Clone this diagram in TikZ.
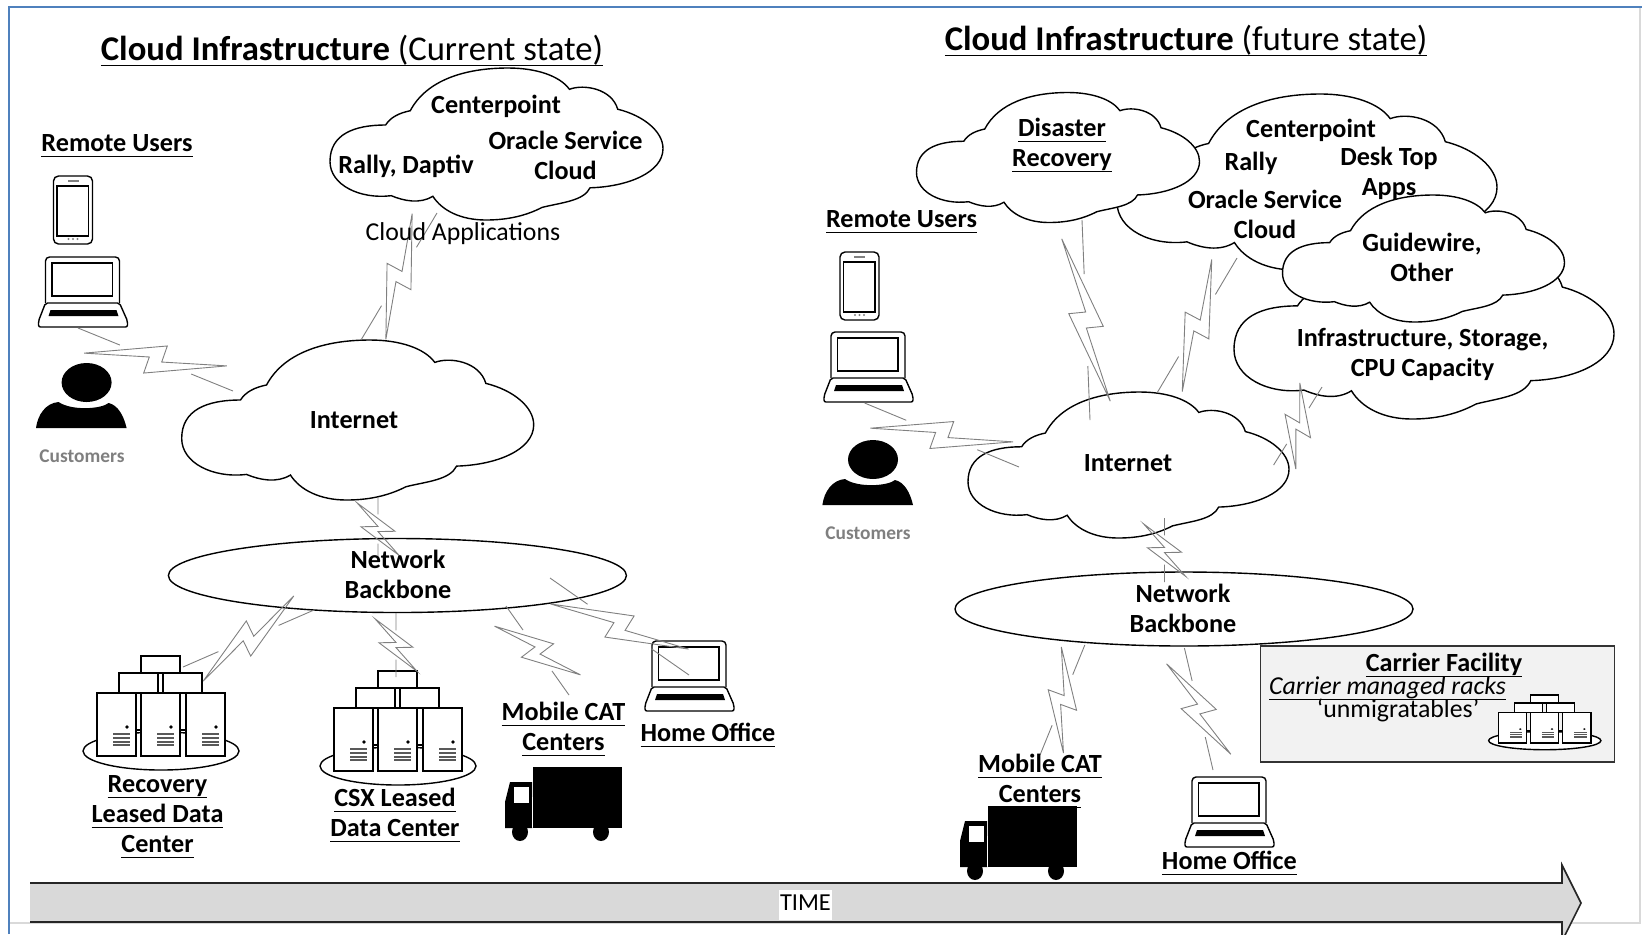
\documentclass[tikz,border=0pt]{standalone}
\usepackage{fontspec}
\setmainfont{Carlito}
\usepackage{xcolor}
\usetikzlibrary{calc,shapes.geometric}
\definecolor{framblue}{HTML}{4F81BD}
\definecolor{boltgray}{HTML}{808080}
\definecolor{custgray}{HTML}{7F7F7F}
\newcommand{\ul}[1]{\strut\underline{\smash{#1}\rule[-1.2pt]{0pt}{1pt}}}
\newcommand{\boltpt}[2]{($(\tikztostart)!#1!(\tikztotarget)!#2!90:(\tikztotarget)$)}
\newcommand{\cloudat}[5]{\pic(#1)[shift={(#2,#3)},xscale=#4/100,yscale=#5/100]{officecloud};}
\tikzset{
	lbl/.style={align=center,inner sep=0pt,yshift=-1pt,font=\fontsize{13.1}{15}\selectfont\bfseries,execute at begin node={\strut},execute at end node={\strut}},
	plainlbl/.style={lbl,font=\fontsize{12.9}{15}\selectfont},
	titlelbl/.style={lbl,yshift=-.5pt,font=\fontsize{17.35}{20}\selectfont},
	shapeline/.style={draw=black,fill=white,line width=.7pt},
	boltlink/.style={draw=boltgray,line width=.45pt,to path={(\tikztostart)--($(\tikztostart)!.27!(\tikztotarget)$)
		\boltpt{.09}{-10.5pt}--\boltpt{.535}{8.5pt}--\boltpt{.54}{0pt}--\boltpt{.91}{10.5pt}--\boltpt{.465}{-8.5pt}--\boltpt{.46}{0pt}--cycle
		($(\tikztostart)!.73!(\tikztotarget)$)--(\tikztotarget)}},
	pics/officecloud/.style={code={\draw[shapeline](16.7,37.5)
		..controls(18.2,32.3)and(20.8,29.6)..(24.1,28.1)
		..controls(28.9,8.3)and(40.2,0)..(53.5,0)
		..controls(62,0)and(69,5.2)..(71.9,14)
		..controls(76.2,10.4)and(84.6,13.5)..(86.4,27.1)
		..controls(94.1,31.25)and(100,41.7)..(100,53)
		..controls(100,68.75)and(89.4,78.1)..(78.1,78.8)
		..controls(76.2,87.5)and(69.5,88.5)..(63.7,91.7)
		..controls(58.2,97.9)and(52.5,100)..(46.8,100)
		..controls(39.3,100)and(33.6,93.75)..(30.9,84.4)
		..controls(27,89.6)and(22.2,87.5)..(18.4,84)
		..controls(9,86.5)and(0,77)..(0,61.5)
		..controls(0,43.75)and(7.1,37.5)..(16.7,37.5)--cycle;}},
	pics/phoneicon/.style={code={
		\draw[shapeline,rounded corners=2.5pt](0,0)rectangle(39,68);
		\draw[line width=.7pt](3.5,10)rectangle(35,60);
		\fill[gray](14,4)rectangle(25,6);
		\foreach \d in {15,19.5,24}{\fill[gray](\d,63)circle(.6pt);}}},
	pics/laptopicon/.style={code={
		\draw[shapeline,rounded corners=2pt](7,46)--(7,0)--(81,0)--(81,46);
		\draw[line width=.8pt](13.5,6)rectangle(74,39);
		\draw[shapeline,rounded corners=1pt](7,46)--(81,46)--(89,64)--(89,70)--(0,70)--(0,64)--cycle;
		\fill(12,53)--(78,53)--(80,59)--(10,59)--cycle;}},
	pics/personicon/.style={code={
		\fill(51,19.5)ellipse[x radius=12.5pt,y radius=9.75pt];
		\fill(.4,65)--(91,65)..controls(88,52)and(82,42)..(73,40)..controls(66,46)and(36,48)..(23,39)..controls(10,40)and(2,52)..(.4,65)--cycle;}},
	pics/truckicon/.style={code={
		\fill(29,0)rectangle(118,61);
		\fill(6,15)--(28,15)--(28,61)--(1,61)--(1,35)--cycle;
		\fill[white](10,20)rectangle(25,36);
		\draw[white,line width=.3pt](28.5,30)--(28.5,60);
		\fill(16,65)ellipse[x radius=4pt,y radius=4.5pt];
		\fill(97,65)ellipse[x radius=4pt,y radius=4.5pt];}},
	pics/serverstack/.style={code={
		\draw[shapeline](78,95)ellipse[x radius=39pt,y radius=9.5pt];
		\draw[shapeline](58,0)rectangle(97,17);
		\draw[shapeline](36,17)rectangle(75,37);
		\draw[shapeline](80,17)rectangle(119,37);
		\draw[line width=.6pt](53,74)--(58,74)(97,74)--(103,74);
		\foreach \t in {14,58,103}{
			\draw[shapeline](\t,37)rectangle(\t+39,100);
			\fill(\t+30,71)circle(.9pt);
			\foreach \r in {78,82,86,89}{\draw[black!65,line width=.7pt](\t+16,\r)--(\t+33,\r);}}}},
}
\begin{document}
\begin{tikzpicture}[x=.5pt,y=-.5pt]
\useasboundingbox(0,0)rectangle(1642,934);
\clip(0,0)rectangle(1642,934);
\draw[black!15,line width=.8pt](9,923)--(1640,923)--(1640,7);
\draw[framblue,line width=1.2pt](9,934)--(9,7)--(1642,7);
\draw[fill=black!15,draw=black!85,line width=.8pt](30,883)--(1562,883)--(1562,865)--(1581,903)--(1562,941)--(1562,922)--(30,922);
\node(timelabel)at(805.5,902.5)[plainlbl,font=\fontsize{12.2}{15}\selectfont,fill=white,minimum width=26.5pt]{TIME};
\node(titleCurrent)at(352,49)[titlelbl]{\ul{\textbf{Cloud Infrastructure} (Current state)}};
\node(titleFuture)at(1186,39)[titlelbl]{\ul{\textbf{Cloud Infrastructure} (future state)}};
%
\cloudat{cloudApps}{330}{68}{333}{152}
\cloudat{cloudNow}{181.7}{340}{352}{160}
\node(backboneNow)at(397.4,575.5)[ellipse,shapeline,minimum width=229pt,minimum height=37pt,inner sep=0pt]{};
\pic(phoneNow)at(53.5,176){phoneicon};
\pic(laptopNow)at(38.5,257){laptopicon};
\pic(personNow)at(35.6,363){personicon};
\pic(rackRecovery)at(83,656){serverstack};
\pic(rackCsx)at(320,671){serverstack};
\pic(laptopHome)at(645,641){laptopicon};
\pic(truckNow)at(504,767){truckicon};
%
\cloudat{cloudCore}{1117}{94}{380}{176}
\cloudat{cloudDisaster}{916.5}{92.5}{283}{130}
\cloudat{cloudInfra}{1234}{238}{380}{181}
\cloudat{cloudGuide}{1282.5}{195}{282}{127}
\cloudat{cloudFuture}{968}{392}{321}{146}
\node(backboneNext)at(1184,609)[ellipse,shapeline,minimum width=229pt,minimum height=37pt,inner sep=0pt]{};
\node(carrierbox)at(1437.5,704)[draw=black!80,fill=black!5,line width=.7pt,minimum width=177pt,minimum height=58pt,inner sep=0pt]{};
\pic(phoneNext)at(840,252){phoneicon};
\pic(laptopNext)at(824,332){laptopicon};
\pic(personNext)at(822,440){personicon};
\pic(rackCarrier)[shift={(1488.6,695)},xscale=.72,yscale=.48]{serverstack};
\pic(laptopOffice)at(1185,777){laptopicon};
\pic(truckNext)at(959,806){truckicon};
%
\coordinate(aL1)at(78,328); \coordinate(bL1)at(233,391);
\coordinate(aL2)at(361,340); \coordinate(bL2)at(437,213);
\coordinate(aL3)at(378,497); \coordinate(bL3)at(378,561);
\coordinate(aL4)at(314,610); \coordinate(bL4)at(183,667);
\coordinate(aL5)at(396,613); \coordinate(bL5)at(396,677);
\coordinate(aL6)at(506,606); \coordinate(bL6)at(569,695);
\coordinate(aL7)at(550,578); \coordinate(bL7)at(689,675);
\coordinate(aR1)at(864.6,403); \coordinate(bR1)at(1019,467);
\coordinate(aR2)at(1090,420); \coordinate(bR2)at(1082,220);
\coordinate(aR3)at(1157,393); \coordinate(bR3)at(1237,258);
\coordinate(aR4)at(1273.6,465); \coordinate(bR4)at(1322,387);
\coordinate(aR5)at(1164.5,518); \coordinate(bR5)at(1164.5,582);
\coordinate(aR6)at(1084.8,645); \coordinate(bR6)at(1040,755);
\coordinate(aR7)at(1184.4,648); \coordinate(bR7)at(1213,770);
\foreach \c in {L1,L2,L3,L4,L5,L6,L7,R1,R2,R3,R4,R5,R6,R7}{\draw[boltlink](a\c)to(b\c);}
%
\node(remoteNow)at(117,143)[lbl]{\ul{Remote Users}};
\node(custNow)at(82,456.5)[lbl,font=\fontsize{9.7}{11}\selectfont\bfseries,text=custgray]{Customers};
\node(internetNow)at(354,420)[lbl]{Internet};
\node(textBackNow)at(398,576.5)[lbl]{Network\\Backbone};
\node(appCenter)at(496,105)[lbl]{Centerpoint};
\node(appOracle)at(565.5,157.5)[lbl]{Oracle Service\\Cloud};
\node(appRally)at(406,165.5)[lbl]{Rally, Daptiv};
\node(appCaption)at(463,232.5)[plainlbl]{Cloud Applications};
\node(labelRecovery)at(157.5,814)[lbl]{\ul{Recovery}\\\ul{Leased Data}\\\ul{Center}};
\node(labelCsx)at(395,813)[lbl]{\ul{CSX Leased}\\\ul{Data Center}};
\node(labelCatNow)at(563.5,727)[lbl]{\ul{Mobile CAT}\\\ul{Centers}};
\node(labelHomeNow)at(708,733)[lbl]{\ul{Home Office}};
%
\node(remoteNext)at(901.6,219)[lbl]{\ul{Remote Users}};
\node(custNext)at(868,533.5)[lbl,font=\fontsize{9.7}{11}\selectfont\bfseries,text=custgray]{Customers};
\node(internetNext)at(1128,463)[lbl]{Internet};
\node(textBackNext)at(1183,611)[lbl]{Network\\Backbone};
\node(labelDisaster)at(1062,143.5)[lbl]{\ul{Disaster}\\\ul{Recovery}};
\node(coreCenter)at(1311,129)[lbl]{Centerpoint};
\node(coreRally)at(1251,162)[lbl]{Rally};
\node(coreDesk)at(1389,174)[lbl]{Desk Top\\Apps};
\node(coreOracle)at(1265,217)[lbl]{Oracle Service\\Cloud};
\node(labelGuide)at(1422,259.5)[lbl]{Guidewire,\\Other};
\node(labelInfra)at(1422.5,355)[lbl]{Infrastructure, Storage,\\CPU Capacity};
\node(labelCatNext)at(1040,779)[lbl]{\ul{Mobile CAT}\\\ul{Centers}};
\node(labelHomeNext)at(1229.4,861)[lbl]{\ul{Home Office}};
\node(carrierHead)at(1444,663)[lbl]{\ul{Carrier Facility}};
\node(carrierRacks)at(1387.5,686)[plainlbl]{\ul{\itshape Carrier managed racks}};
\node(carrierNote)at(1398,709)[plainlbl]{‘unmigratables’};
\end{tikzpicture}
\end{document}
